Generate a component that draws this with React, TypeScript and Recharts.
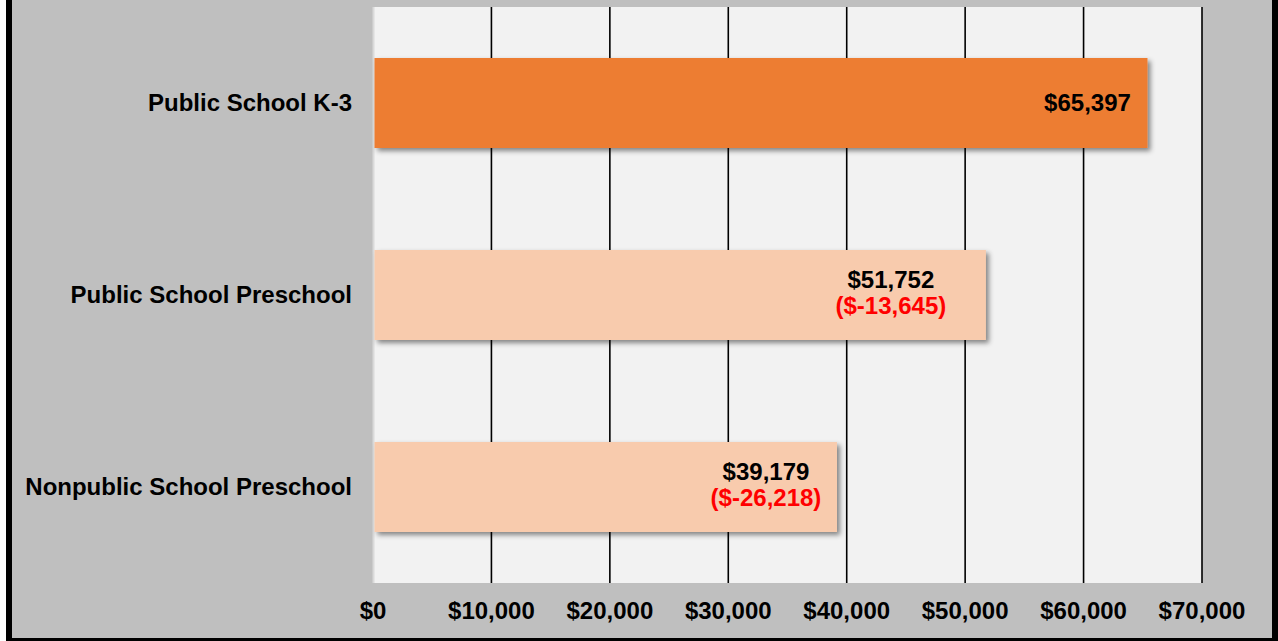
import React from 'react';
import { BarChart, Bar, XAxis, YAxis, CartesianGrid, Cell } from 'recharts';

const categories = ['Public School K-3', 'Public School Preschool', 'Nonpublic School Preschool'];
const costs = [65397, 51752, 39179];
const differences: (number | null)[] = [null, -13645, -26218];
const xTicks = [0, 10000, 20000, 30000, 40000, 50000, 60000, 70000];

const barColors = ['#ed7d31', '#f8cbad', '#f8cbad'];
const labelOffsets = [60, 95, 71];
const FONT = '"Liberation Sans", Arial, Helvetica, sans-serif';
const FS = 24;

const data = categories.map((name, i) => ({ name, cost: costs[i], diff: differences[i] }));

const money = (v: number) => `$${v.toLocaleString('en-US')}`;

const XTick = (props: any) => {
  const { x, y, payload } = props;
  return (
    <text x={x} y={y + 28} textAnchor="middle" fill="#000" fontFamily={FONT} fontWeight="bold" fontSize={FS}>
      {money(payload.value)}
    </text>
  );
};

const YTick = (props: any) => {
  const { x, y, payload } = props;
  return (
    <text x={x - 13} y={y} dy="0.35em" textAnchor="end" fill="#000" fontFamily={FONT} fontWeight="bold" fontSize={FS}>
      {payload.value}
    </text>
  );
};

const ShadowBar = (props: any) => {
  const { x, y, width, height, fill, index, payload } = props;
  const id = `barShadow${index}`;
  const cx = x + width - labelOffsets[index];
  const cy = y + height / 2;
  const hasDiff = payload.diff !== null && payload.diff !== undefined;
  return (
    <g>
      <defs>
        <filter id={id} x="-10%" y="-20%" width="130%" height="150%">
          <feDropShadow dx="3" dy="3" stdDeviation="2.5" floodColor="#000" floodOpacity="0.45" />
        </filter>
      </defs>
      <rect x={x + 1.5} y={y} width={width - 1.5} height={height} fill={fill} filter={`url(#${id})`} />
      {hasDiff ? (
        <g fontFamily={FONT} fontWeight="bold" fontSize={FS} textAnchor="middle">
          <text x={cx} y={cy - 7} fill="#000">{money(payload.cost)}</text>
          <text x={cx} y={cy + 19} fill="#ff0000">({money(payload.diff)})</text>
        </g>
      ) : (
        <text x={cx} y={cy + 8} fill="#000" fontFamily={FONT} fontWeight="bold" fontSize={FS} textAnchor="middle">
          {money(payload.cost)}
        </text>
      )}
    </g>
  );
};

const GridLine = (props: any) => {
  const { x1, y1, x2, y2 } = props;
  if (x1 < 380) {
    return <line x1={x1 + 0.5} y1={y1} x2={x2 + 0.5} y2={y2} stroke="#dadada" strokeWidth={2} />;
  }
  return <line x1={x1} y1={y1} x2={x2} y2={y2} stroke="#000" strokeWidth={1.6} />;
};

export default function App() {
  return (
    <div style={{ position: 'fixed', left: 0, top: 0, width: 1278, height: 641, background: '#fff' }}>
      <div
        style={{
          position: 'absolute',
          left: 6,
          top: 0,
          width: 1272,
          height: 641,
          boxSizing: 'border-box',
          background: '#bfbfbf',
          borderLeft: '6px solid #000',
          borderRight: '6px solid #000',
          borderBottom: '3px solid #000',
        }}
      />
      <div style={{ position: 'absolute', left: 0, top: 0 }}>
        <BarChart
          width={1278}
          height={641}
          data={data}
          layout="vertical"
          margin={{ top: 7, right: 76, bottom: 0, left: 0 }}
        >
          <CartesianGrid horizontal={false} vertical={GridLine} fill="#f2f2f2" />
          <XAxis
            type="number"
            domain={[0, 70000]}
            ticks={xTicks}
            interval={0}
            axisLine={false}
            tickLine={false}
            height={58}
            tick={XTick}
          />
          <YAxis
            type="category"
            dataKey="name"
            width={373}
            axisLine={false}
            tickLine={false}
            interval={0}
            tick={YTick}
          />
          <Bar dataKey="cost" barSize={90} isAnimationActive={false} shape={ShadowBar}>
            {data.map((d, i) => (
              <Cell key={d.name} fill={barColors[i]} />
            ))}
          </Bar>
        </BarChart>
      </div>
    </div>
  );
}
